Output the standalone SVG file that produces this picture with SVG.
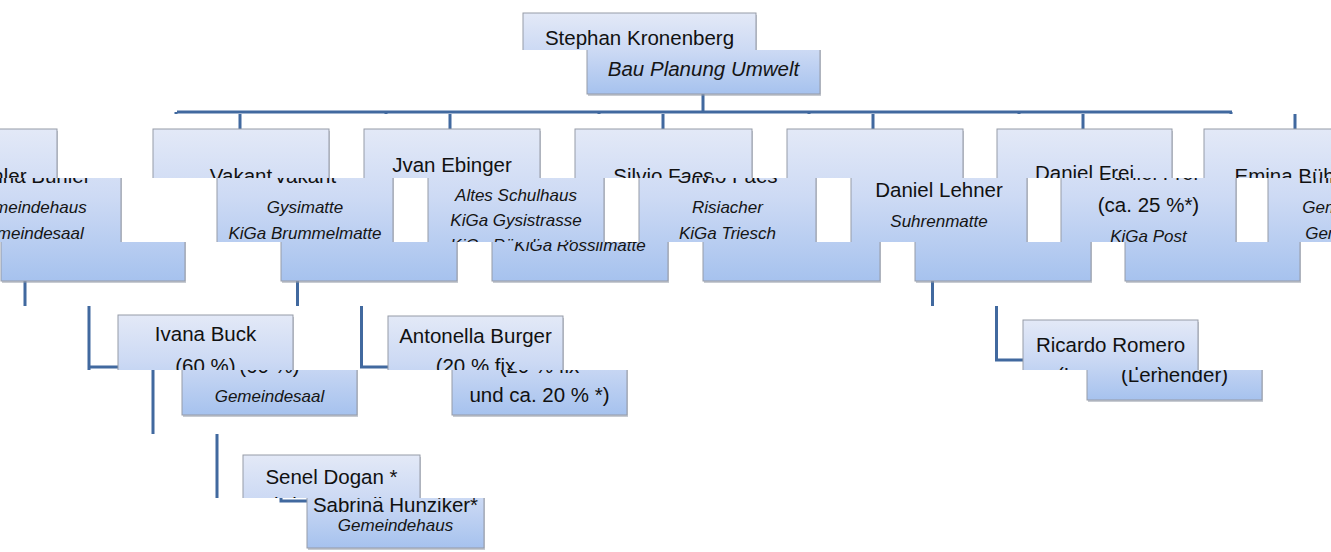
<svg xmlns="http://www.w3.org/2000/svg" xmlns:xlink="http://www.w3.org/1999/xlink" width="1331" height="552" viewBox="0 0 1331 552">
<defs>
<linearGradient id="gb" x1="0" y1="0" x2="0" y2="1">
<stop offset="0" stop-color="#e3e9f7"/>
<stop offset="0.45" stop-color="#cddaf4"/>
<stop offset="1" stop-color="#a6c2ee"/>
</linearGradient>
<clipPath id="b0"><rect x="0" y="0" width="1331" height="50"/></clipPath>
<clipPath id="b1"><rect x="0" y="50" width="1331" height="64"/></clipPath>
<clipPath id="b2"><rect x="0" y="114" width="1331" height="64"/></clipPath>
<clipPath id="b3"><rect x="0" y="178" width="1331" height="64"/></clipPath>
<clipPath id="b4"><rect x="0" y="242" width="1331" height="64"/></clipPath>
<clipPath id="b5"><rect x="0" y="306" width="1331" height="64"/></clipPath>
<clipPath id="b6"><rect x="0" y="370" width="1331" height="64"/></clipPath>
<clipPath id="b7"><rect x="0" y="434" width="1331" height="64"/></clipPath>
<clipPath id="b8"><rect x="0" y="498" width="1331" height="54"/></clipPath>
<style>
.box{fill:url(#gb);stroke:#969ba7;stroke-width:1}
.sh{fill:#8f97a5;opacity:.5}
.n{font-family:"Liberation Sans",Arial,sans-serif;font-size:20.5px;fill:#111111;text-anchor:middle}
.s{font-family:"Liberation Sans",Arial,sans-serif;font-size:17px;font-style:italic;fill:#151515;text-anchor:middle}
.b{font-size:20.5px}
.ln{stroke:#41699f;stroke-width:3;fill:none}
</style>
</defs>
<rect width="1331" height="552" fill="#ffffff"/>
<g clip-path="url(#b0)">
<g id="chart">
<g id="connectors">
<path class="ln" d="M639,94V112 M113,112H1168 M112,112V129 M322,112V129 M535,112V129 M745,112V129 M955,112V129 M1167,112V129"/>
<path class="ln" d="M41.5,281V367H68"/>
<path class="ln" d="M676.5,281V360H703"/>
<path class="ln" d="M1100,281V501H1126 M1100,367H1129"/>
</g>
<g id="n-kronenberg">
<rect class="sh" x="524" y="15" width="233" height="81"/>
<rect class="box" x="523" y="13" width="233" height="81"/>
<text class="n" x="639.5" y="45">Stephan Kronenberg</text>
<text class="s b" x="639.5" y="76">Bau Planung Umwelt</text>
</g>
<g id="n-vakant">
<rect class="sh" x="26" y="131" width="176" height="152"/>
<rect class="box" x="25" y="129" width="176" height="152"/>
<text class="n" x="113" y="183">Vakant</text>
<text class="s" x="113" y="213">Gysimatte</text>
<text class="s" x="113" y="239">KiGa Brummelmatte</text>
</g>
<g id="n-ebinger">
<rect class="sh" x="237" y="131" width="176" height="152"/>
<rect class="box" x="236" y="129" width="176" height="152"/>
<text class="n" x="324" y="172">Jvan Ebinger</text>
<text class="s" x="324" y="201">Altes Schulhaus</text>
<text class="s" x="324" y="226">KiGa Gysistrasse</text>
<text class="s" x="324" y="251">KiGa Rösslimatte</text>
</g>
<g id="n-faes">
<rect class="sh" x="448" y="131" width="177" height="152"/>
<rect class="box" x="447" y="129" width="177" height="152"/>
<text class="n" x="535.5" y="183">Silvio Faes</text>
<text class="s" x="535.5" y="213">Risiacher</text>
<text class="s" x="535.5" y="239">KiGa Triesch</text>
</g>
<g id="n-lehner">
<rect class="sh" x="660" y="131" width="176" height="152"/>
<rect class="box" x="659" y="129" width="176" height="152"/>
<text class="n" x="747" y="197">Daniel Lehner</text>
<text class="s" x="747" y="227">Suhrenmatte</text>
</g>
<g id="n-frei">
<rect class="sh" x="870" y="131" width="175" height="152"/>
<rect class="box" x="869" y="129" width="175" height="152"/>
<text class="n" x="956.5" y="180">Daniel Frei</text>
<text class="n" x="956.5" y="212">(ca. 25 %*)</text>
<text class="s" x="956.5" y="242">KiGa Post</text>
</g>
<g id="n-buehler">
<rect class="sh" x="1077" y="131" width="184" height="152"/>
<rect class="box" x="1076" y="129" width="184" height="152"/>
<text class="n" x="1168" y="183">Emina Bühler</text>
<text class="s" x="1168" y="213">Gemeindehaus</text>
<text class="s" x="1168" y="239">Gemeindesaal</text>
</g>
<g id="n-burger">
<rect class="sh" x="69" y="318" width="175" height="99"/>
<rect class="box" x="68" y="316" width="175" height="99"/>
<text class="n" x="155.5" y="343">Antonella Burger</text>
<text class="n" x="155.5" y="373">(20 % fix</text>
<text class="n" x="155.5" y="402">und ca. 20 % *)</text>
</g>
<g id="n-romero">
<rect class="sh" x="704" y="322" width="175" height="80"/>
<rect class="box" x="703" y="320" width="175" height="80"/>
<text class="n" x="790.5" y="352">Ricardo Romero</text>
<text class="n" x="790.5" y="382">(Lernender)</text>
</g>
<g id="n-buck">
<rect class="sh" x="1130" y="317" width="175" height="100"/>
<rect class="box" x="1129" y="315" width="175" height="100"/>
<text class="n" x="1216.5" y="341">Ivana Buck</text>
<text class="n" x="1216.5" y="373">(60 %)</text>
<text class="s" x="1216.5" y="402">Gemeindesaal</text>
</g>
<g id="n-dogan">
<rect class="sh" x="1127" y="457" width="177" height="93"/>
<rect class="box" x="1126" y="455" width="177" height="93"/>
<text class="n" x="1214.5" y="484">Senel Dogan *</text>
<text class="n" x="1214.5" y="512">Sabrina Hunziker*</text>
<text class="s" x="1214.5" y="531">Gemeindehaus</text>
</g>
</g>
</g>
<g clip-path="url(#b1)"><use xlink:href="#chart" x="64"/><use xlink:href="#chart" x="-1267"/></g>
<g clip-path="url(#b2)"><use xlink:href="#chart" x="128"/><use xlink:href="#chart" x="-1203"/></g>
<g clip-path="url(#b3)"><use xlink:href="#chart" x="192"/><use xlink:href="#chart" x="-1139"/></g>
<g clip-path="url(#b4)"><use xlink:href="#chart" x="256"/><use xlink:href="#chart" x="-1075"/></g>
<g clip-path="url(#b5)"><use xlink:href="#chart" x="320"/><use xlink:href="#chart" x="-1011"/></g>
<g clip-path="url(#b6)"><use xlink:href="#chart" x="384"/><use xlink:href="#chart" x="-947"/></g>
<g clip-path="url(#b7)"><use xlink:href="#chart" x="448"/><use xlink:href="#chart" x="-883"/></g>
<g clip-path="url(#b8)"><use xlink:href="#chart" x="512"/><use xlink:href="#chart" x="-819"/></g>
</svg>
